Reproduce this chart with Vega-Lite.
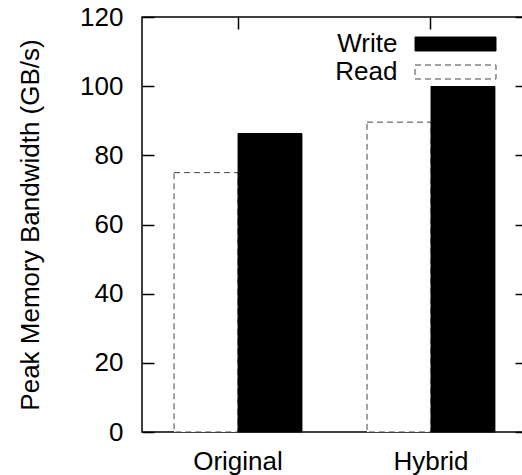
{
  "$schema": "https://vega.github.io/schema/vega-lite/v6.json",
  "width": 385,
  "height": 415,
  "autosize": "none",
  "padding": {"left": 142, "top": 17, "right": -5, "bottom": 43},
  "background": "white",
  "config": {
    "font": "Liberation Sans",
    "view": {"stroke": "black", "strokeWidth": 1.5},
    "axis": {
      "grid": false,
      "domain": false,
      "labelFont": "Liberation Sans",
      "labelFontSize": 26,
      "labelColor": "black",
      "titleFont": "Liberation Sans",
      "titleFontSize": 26,
      "titleFontWeight": "normal",
      "titleColor": "black",
      "tickColor": "black",
      "tickWidth": 1.5
    },
    "legend": {
      "orient": "none",
      "legendX": 271,
      "legendY": 14,
      "padding": 0,
      "symbolType": "M-4,-0.69L4,-0.69L4,0.69L-4,0.69Z",
      "symbolSize": 410,
      "symbolOffset": 29.5,
      "symbolStrokeWidth": 1,
      "labelFont": "Liberation Sans",
      "labelFontSize": 26,
      "labelColor": "black",
      "labelAlign": "right",
      "labelOffset": -71,
      "rowPadding": 2
    }
  },
  "data": {
    "values": [
      {"system": "Original", "type": "Read", "value": 75},
      {"system": "Original", "type": "Write", "value": 86.3},
      {"system": "Hybrid", "type": "Read", "value": 89.6},
      {"system": "Hybrid", "type": "Write", "value": 99.9}
    ]
  },
  "layer": [
    {
      "mark": {"type": "bar", "strokeWidth": 1},
      "encoding": {
        "x": {
          "field": "system",
          "type": "nominal",
          "sort": ["Original", "Hybrid"],
          "scale": {"paddingInner": 0.337, "paddingOuter": 0.166},
          "axis": {"orient": "bottom", "title": null, "ticks": false, "labelAngle": 0, "labelPadding": 16}
        },
        "xOffset": {
          "field": "type",
          "type": "nominal",
          "sort": ["Read", "Write"],
          "scale": {"paddingInner": 0, "paddingOuter": 0}
        },
        "y": {
          "field": "value",
          "type": "quantitative",
          "scale": {"domain": [0, 120], "nice": false},
          "axis": {
            "orient": "left",
            "values": [0, 20, 40, 60, 80, 100, 120],
            "tickSize": -12,
            "labelPadding": 31,
            "title": "Peak Memory Bandwidth (GB/s)",
            "titlePadding": 36
          }
        },
        "fill": {
          "field": "type",
          "type": "nominal",
          "scale": {"domain": ["Write", "Read"], "range": ["black", "white"]},
          "legend": {"title": null}
        },
        "stroke": {
          "field": "type",
          "type": "nominal",
          "scale": {"domain": ["Write", "Read"], "range": ["black", "#444444"]},
          "legend": {"title": null}
        },
        "strokeDash": {
          "field": "type",
          "type": "nominal",
          "scale": {"domain": ["Write", "Read"], "range": [[1, 0], [6, 4]]},
          "legend": {"title": null}
        }
      }
    },
    {
      "mark": {"type": "tick", "opacity": 0},
      "encoding": {
        "x": {
          "field": "system",
          "type": "nominal",
          "sort": ["Original", "Hybrid"],
          "axis": {"orient": "top", "title": null, "labels": false, "tickSize": -12}
        },
        "y": {
          "field": "value",
          "type": "quantitative",
          "axis": {"orient": "right", "title": null, "labels": false, "tickSize": -12, "values": [0, 20, 40, 60, 80, 100, 120]}
        }
      }
    }
  ],
  "resolve": {"axis": {"x": "independent", "y": "independent"}}
}
